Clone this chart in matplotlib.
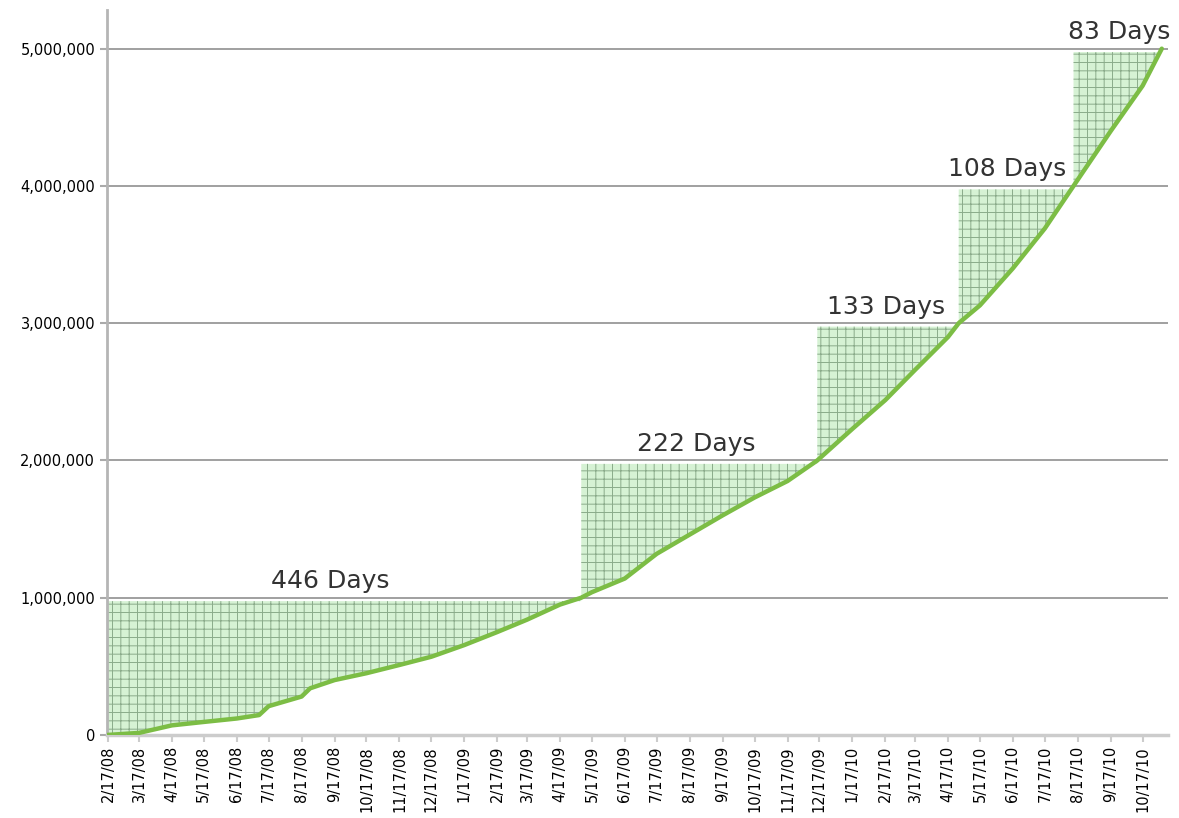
import matplotlib

matplotlib.use("Agg")
import matplotlib.pyplot as plt
import pandas as pd

plt.rcParams["hatch.linewidth"] = 0.7

# cumulative users (milestone dates included)
dates = pd.to_datetime(
    [
        "2008-02-16", "2008-03-17", "2008-04-17", "2008-05-17", "2008-06-17",
        "2008-07-08", "2008-07-17", "2008-08-17", "2008-08-25", "2008-09-17",
        "2008-10-17", "2008-11-17", "2008-12-17", "2009-01-17", "2009-02-17",
        "2009-03-17", "2009-04-17", "2009-05-07", "2009-05-17", "2009-06-17",
        "2009-07-17", "2009-08-17", "2009-09-17", "2009-10-17", "2009-11-17",
        "2009-12-15", "2010-01-17", "2010-02-17", "2010-03-17", "2010-04-17",
        "2010-04-27", "2010-05-17", "2010-06-17", "2010-07-17", "2010-08-13",
        "2010-09-17", "2010-10-17", "2010-11-04",
    ]
)
users = [
    0, 15000, 70000, 95000, 120000,
    145000, 210000, 280000, 340000, 400000,
    450000, 510000, 570000, 655000, 750000,
    840000, 950000, 1000000, 1040000, 1140000,
    1320000, 1460000, 1600000, 1730000, 1850000,
    2000000, 2230000, 2440000, 2660000, 2900000,
    3000000, 3130000, 3400000, 3690000, 4000000,
    4400000, 4730000, 5000000,
]

milestones = [1000000, 2000000, 3000000, 4000000, 5000000]
milestone_dates = pd.to_datetime(
    ["2009-05-07", "2009-12-15", "2010-04-27", "2010-08-13", "2010-11-04"]
)
day_labels = ["446 Days", "222 Days", "133 Days", "108 Days", "83 Days"]
label_dates = pd.to_datetime(
    ["2008-09-13", "2009-08-23", "2010-02-18", "2010-06-12", "2010-09-25"]
)

tick_dates = pd.date_range("2008-02-01", "2010-10-17", freq="MS") + pd.Timedelta(days=16)
tick_labels = [f"{d.month}/{d.day}/{d:%y}" for d in tick_dates]

fig = plt.figure(figsize=(11.79, 8.18), dpi=100)
ax = fig.add_axes([0.0908, 0.1015, 0.9, 0.886])

s = pd.Series(users, index=dates)
start = dates[0]
for level, end in zip(milestones, milestone_dates):
    seg = s[(s.index >= start) & (s.index <= end)]
    ax.fill_between(
        seg.index, seg.values, level - 25000,
        facecolor="#d6f2d4", edgecolor="#8aab8a", hatch="++", linewidth=0, zorder=1,
    )
    start = end

ax.plot(dates, users, color="#7cbd45", lw=3.2, solid_capstyle="round", zorder=3)

for lab, d, level in zip(day_labels, label_dates, milestones):
    ax.text(d, level + 70000, lab, ha="center", va="baseline",
            fontsize=18, color="#333333")

ax.set_ylim(0, 5280000)
ax.set_xlim(pd.Timestamp("2008-02-16"), pd.Timestamp("2010-11-10"))
ax.set_yticks([0, 1000000, 2000000, 3000000, 4000000, 5000000])
ax.set_yticklabels(["0", "1,000,000", "2,000,000", "3,000,000", "4,000,000", "5,000,000"])
ax.set_xticks(tick_dates)
ax.set_xticklabels(tick_labels, rotation=90)
ax.tick_params(axis="y", labelsize=10.5, length=5, color="#aaaaaa", width=1.5)
ax.tick_params(axis="x", labelsize=10.5, length=5, color="#cccccc", width=1.5, pad=3)

ax.grid(axis="y", color="#999999", lw=1.3, zorder=0)
ax.set_axisbelow(True)
for sp in ["top", "right"]:
    ax.spines[sp].set_visible(False)
ax.spines["left"].set_color("#b5b5b5")
ax.spines["left"].set_linewidth(2)
ax.spines["bottom"].set_color("#cccccc")
ax.spines["bottom"].set_linewidth(2.5)

fig.savefig("out.png", dpi=100)
